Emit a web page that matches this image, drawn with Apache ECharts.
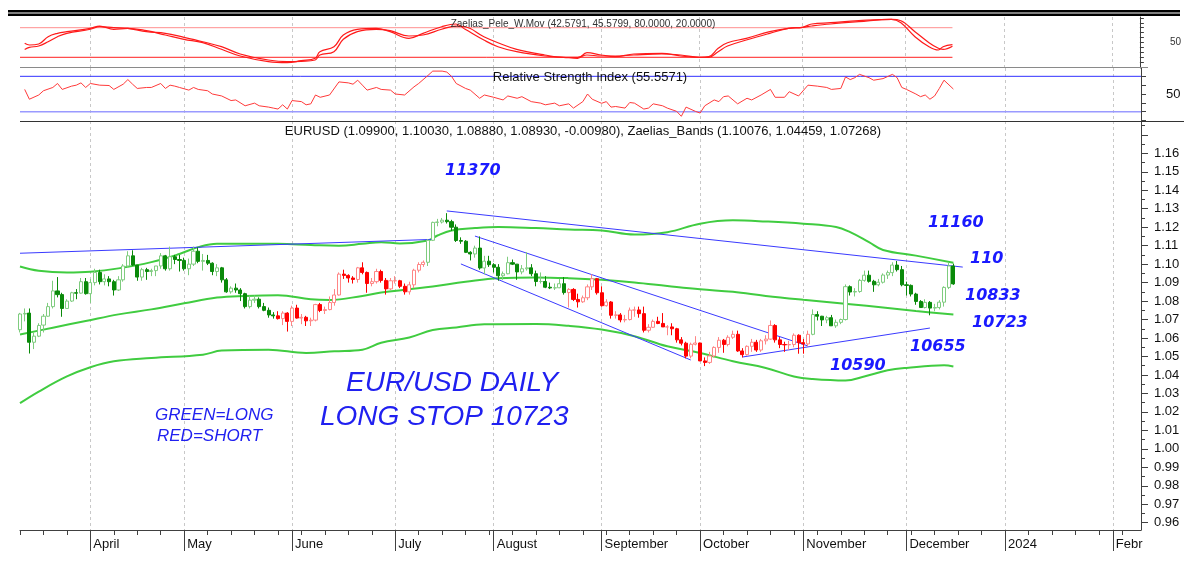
<!DOCTYPE html>
<html>
<head>
<meta charset="utf-8">
<title>EURUSD daily</title>
<script src="https://cdn.jsdelivr.net/npm/echarts@6/dist/echarts.min.js"></script>
<style>
  html, body { margin: 0; padding: 0; background: #fff; }
  #main { width: 1184px; height: 569px; }
</style>
</head>
<body>
<div id="main"></div>
<script>
// ---- data ----
// month names shown under the axis (first trading day of each month)
const monthNames = ['April', 'May', 'June', 'July', 'August', 'September', 'October', 'November', 'December', '2024', 'Febr'];

// daily candles [open, high, low, close], 13 Mar .. 15 Dec 2023
const eurusd = [
  // March
  [1.0645,1.0736,1.0630,1.0730],[1.0730,1.0760,1.0690,1.0733],[1.0735,1.0760,1.0516,1.0577],[1.0577,1.0630,1.0540,1.0610],
  [1.0610,1.0680,1.0605,1.0668],[1.0670,1.0730,1.0630,1.0718],[1.0718,1.0790,1.0715,1.0770],[1.0770,1.0910,1.0760,1.0855],
  [1.0855,1.0930,1.0820,1.0835],[1.0835,1.0845,1.0715,1.0760],[1.0760,1.0810,1.0760,1.0800],[1.0800,1.0850,1.0795,1.0845],
  [1.0845,1.0865,1.0810,1.0843],[1.0843,1.0925,1.0840,1.0905],[1.0905,1.0925,1.0835,1.0840],
  // April
  [1.0840,1.0920,1.0790,1.0900],[1.0900,1.0975,1.0885,1.0955],[1.0955,1.0970,1.0890,1.0905],[1.0905,1.0945,1.0885,1.0920],
  [1.0920,1.0935,1.0880,1.0905],[1.0905,1.0915,1.0830,1.0860],[1.0860,1.0935,1.0855,1.0915],[1.0915,1.1000,1.0905,1.0990],
  [1.0990,1.1070,1.0980,1.1045],[1.1045,1.1075,1.0990,1.0995],[1.0995,1.0995,1.0910,1.0930],[1.0930,1.0980,1.0910,1.0970],
  [1.0970,1.0980,1.0915,1.0960],[1.0960,1.0975,1.0935,1.0965],[1.0965,1.0990,1.0935,1.0990],[1.0990,1.1060,1.0975,1.1045],
  [1.1045,1.1050,1.0965,1.0975],[1.0975,1.1095,1.0965,1.1040],[1.1040,1.1050,1.1000,1.1025],[1.1025,1.1050,1.0960,1.1020],
  // May
  [1.1020,1.1035,1.0965,1.0975],[1.0975,1.1030,1.0940,1.1000],[1.1000,1.1095,1.0990,1.1070],[1.1070,1.1090,1.1005,1.1015],
  [1.1015,1.1055,1.0965,1.1020],[1.1020,1.1050,1.0995,1.1005],[1.1005,1.1010,1.0940,1.0960],[1.0960,1.1000,1.0935,1.0980],
  [1.0980,1.0985,1.0900,1.0915],[1.0915,1.0925,1.0845,1.0850],[1.0850,1.0880,1.0840,1.0870],[1.0870,1.0895,1.0845,1.0860],
  [1.0860,1.0870,1.0800,1.0840],[1.0840,1.0845,1.0760,1.0770],[1.0770,1.0830,1.0760,1.0805],[1.0805,1.0830,1.0790,1.0810],
  [1.0810,1.0820,1.0760,1.0770],[1.0770,1.0790,1.0745,1.0750],[1.0750,1.0765,1.0710,1.0725],[1.0725,1.0740,1.0705,1.0720],
  [1.0720,1.0745,1.0700,1.0705],[1.0705,1.0745,1.0670,1.0735],[1.0735,1.0740,1.0635,1.0690],
  // June
  [1.0690,1.0775,1.0665,1.0762],[1.0762,1.0780,1.0705,1.0708],[1.0708,1.0730,1.0675,1.0712],[1.0712,1.0720,1.0665,1.0693],
  [1.0693,1.0710,1.0665,1.0697],[1.0697,1.0785,1.0690,1.0781],[1.0781,1.0790,1.0740,1.0749],[1.0749,1.0770,1.0730,1.0754],
  [1.0754,1.0825,1.0750,1.0792],[1.0792,1.0865,1.0775,1.0833],[1.0833,1.0955,1.0830,1.0946],[1.0946,1.0970,1.0920,1.0939],
  [1.0939,1.0945,1.0900,1.0925],[1.0925,1.0935,1.0895,1.0917],[1.0917,1.0985,1.0900,1.0980],[1.0980,1.1010,1.0945,1.0955],
  [1.0955,1.0960,1.0845,1.0895],[1.0895,1.0925,1.0880,1.0905],[1.0905,1.0975,1.0895,1.0960],[1.0960,1.0970,1.0900,1.0912],
  [1.0912,1.0925,1.0835,1.0866],[1.0866,1.0925,1.0860,1.0910],
  // July
  [1.0910,1.0935,1.0895,1.0910],[1.0910,1.0915,1.0870,1.0880],[1.0880,1.0895,1.0835,1.0850],[1.0850,1.0905,1.0835,1.0888],
  [1.0888,1.0975,1.0870,1.0967],[1.0967,1.1010,1.0955,1.0998],[1.0998,1.1020,1.0985,1.1010],[1.1010,1.1135,1.0990,1.1129],
  [1.1129,1.1230,1.1125,1.1226],[1.1226,1.1245,1.1205,1.1228],[1.1228,1.1250,1.1220,1.1238],[1.1238,1.1276,1.1220,1.1230],
  [1.1230,1.1240,1.1180,1.1200],[1.1200,1.1215,1.1120,1.1128],[1.1128,1.1145,1.1110,1.1124],[1.1124,1.1130,1.1060,1.1064],
  [1.1064,1.1070,1.1020,1.1055],[1.1055,1.1100,1.1035,1.1087],[1.1087,1.1150,1.0970,1.0979],[1.0979,1.1045,1.0945,1.1016],
  [1.1016,1.1045,1.0985,1.0997],
  // August
  [1.0997,1.1005,1.0955,1.0983],[1.0983,1.1000,1.0910,1.0937],[1.0937,1.0960,1.0915,1.0948],[1.0948,1.1040,1.0945,1.1008],
  [1.1008,1.1025,1.0995,1.1000],[1.1000,1.1000,1.0915,1.0958],[1.0958,1.0995,1.0945,1.0975],[1.0975,1.1065,1.0965,1.0980],
  [1.0980,1.1000,1.0935,1.0948],[1.0948,1.0965,1.0880,1.0906],[1.0906,1.0955,1.0895,1.0906],[1.0906,1.0935,1.0870,1.0875],
  [1.0875,1.0900,1.0865,1.0871],[1.0871,1.0895,1.0860,1.0872],[1.0872,1.0920,1.0870,1.0894],[1.0894,1.0930,1.0835,1.0846],
  [1.0846,1.0870,1.0765,1.0863],[1.0863,1.0870,1.0800,1.0809],[1.0809,1.0840,1.0765,1.0796],[1.0796,1.0830,1.0790,1.0818],
  [1.0818,1.0890,1.0805,1.0877],[1.0877,1.0945,1.0860,1.0921],[1.0921,1.0925,1.0835,1.0845],
  // September
  [1.0845,1.0880,1.0770,1.0775],[1.0775,1.0810,1.0770,1.0795],[1.0795,1.0800,1.0705,1.0723],[1.0723,1.0745,1.0705,1.0725],
  [1.0725,1.0735,1.0685,1.0698],[1.0698,1.0725,1.0685,1.0700],[1.0700,1.0765,1.0695,1.0751],[1.0751,1.0770,1.0715,1.0752],
  [1.0752,1.0770,1.0710,1.0732],[1.0732,1.0770,1.0630,1.0642],[1.0642,1.0675,1.0630,1.0658],[1.0658,1.0700,1.0655,1.0690],
  [1.0690,1.0715,1.0675,1.0679],[1.0679,1.0735,1.0660,1.0660],[1.0660,1.0670,1.0615,1.0660],[1.0660,1.0680,1.0615,1.0650],
  [1.0650,1.0655,1.0575,1.0590],[1.0590,1.0605,1.0560,1.0572],[1.0572,1.0580,1.0490,1.0502],[1.0502,1.0575,1.0490,1.0566],
  [1.0566,1.0610,1.0560,1.0573],
  // October
  [1.0573,1.0575,1.0475,1.0476],[1.0476,1.0495,1.0448,1.0468],[1.0468,1.0525,1.0460,1.0503],[1.0503,1.0555,1.0495,1.0549],
  [1.0549,1.0605,1.0520,1.0588],[1.0588,1.0595,1.0520,1.0565],[1.0565,1.0615,1.0555,1.0604],[1.0604,1.0640,1.0595,1.0620],
  [1.0620,1.0640,1.0525,1.0530],[1.0530,1.0545,1.0495,1.0510],[1.0510,1.0560,1.0505,1.0555],[1.0555,1.0595,1.0525,1.0577],
  [1.0577,1.0590,1.0525,1.0535],[1.0535,1.0595,1.0525,1.0585],[1.0585,1.0615,1.0565,1.0594],[1.0594,1.0695,1.0590,1.0668],
  [1.0668,1.0675,1.0575,1.0590],[1.0590,1.0605,1.0545,1.0565],[1.0565,1.0580,1.0525,1.0563],[1.0563,1.0585,1.0535,1.0565],
  [1.0565,1.0625,1.0550,1.0615],[1.0615,1.0620,1.0515,1.0575],
  // November
  [1.0575,1.0595,1.0515,1.0568],[1.0568,1.0640,1.0555,1.0620],[1.0620,1.0755,1.0615,1.0727],[1.0727,1.0745,1.0695,1.0718],
  [1.0718,1.0720,1.0665,1.0698],[1.0698,1.0720,1.0680,1.0710],[1.0710,1.0725,1.0665,1.0666],[1.0666,1.0700,1.0655,1.0685],
  [1.0685,1.0705,1.0675,1.0700],[1.0700,1.0890,1.0695,1.0878],[1.0878,1.0885,1.0830,1.0849],[1.0849,1.0870,1.0825,1.0852],
  [1.0852,1.0920,1.0845,1.0912],[1.0912,1.0965,1.0905,1.0940],[1.0940,1.0965,1.0900,1.0907],[1.0907,1.0915,1.0850,1.0888],
  [1.0888,1.0920,1.0880,1.0902],[1.0902,1.0950,1.0895,1.0941],[1.0941,1.0965,1.0920,1.0954],[1.0954,1.1010,1.0935,1.0995],
  [1.0995,1.1017,1.0960,1.0970],[1.0970,1.0990,1.0880,1.0888],
  // December
  [1.0888,1.0905,1.0830,1.0885],[1.0885,1.0890,1.0825,1.0838],[1.0838,1.0845,1.0780,1.0798],[1.0798,1.0805,1.0765,1.0765],
  [1.0765,1.0810,1.0760,1.0793],[1.0793,1.0800,1.0723,1.0762],[1.0762,1.0785,1.0745,1.0765],[1.0765,1.0805,1.0755,1.0794],
  [1.0794,1.0880,1.0770,1.0874],[1.0874,1.1009,1.0865,1.0990],[1.0990,1.1003,1.0888,1.0893]
];

// long / short regime: first candle index of each run
const signalStart = [0, 55, 87, 117, 169];
const signalSide = ['long', 'short', 'long', 'short', 'long'];

// Zaelias bands [candle index, price]
const upperBand = [[0,1.0987],[4,1.0964],[10,1.0955],[15,1.0959],[21,1.0977],[28,1.1011],[34,1.1055],[38,1.1092],[42,1.1110],
  [55,1.1110],[62,1.1104],[68,1.1100],[73,1.1110],[77,1.1119],[81,1.1112],[87,1.1128],[89,1.1155],[92,1.1182],[97,1.1195],
  [102,1.1201],[110,1.1195],[117,1.1187],[124,1.1182],[131,1.1160],[138,1.1173],[145,1.1219],[152,1.1237],[159,1.1231],
  [167,1.1219],[174,1.1201],[177,1.1173],[181,1.1119],[184,1.1077],[191,1.1046],[199,1.1008]];
const midBand = [[0,1.0619],[7,1.0656],[14,1.0692],[21,1.0728],[28,1.0755],[35,1.0788],[42,1.0819],[48,1.0828],[55,1.0832],
  [62,1.0810],[66,1.0806],[73,1.0828],[77,1.0846],[83,1.0864],[88,1.0879],[95,1.0904],[102,1.0924],[110,1.0928],[117,1.0924],
  [124,1.0915],[131,1.0901],[138,1.0882],[145,1.0864],[152,1.0850],[159,1.0828],[167,1.0807],[177,1.0783],[184,1.0765],
  [191,1.0746],[199,1.0727]];
const lowerBand = [[0,1.0247],[4,1.0310],[10,1.0392],[15,1.0442],[20,1.0474],[28,1.0492],[39,1.0510],[43,1.0532],[53,1.0537],
  [61,1.0519],[67,1.0528],[73,1.0537],[77,1.0574],[83,1.0603],[88,1.0643],[93,1.0657],[99,1.0674],[110,1.0676],[117,1.0666],
  [124,1.0646],[131,1.0610],[138,1.0555],[145,1.0519],[152,1.0474],[159,1.0438],[165,1.0392],[169,1.0378],[176,1.0370],
  [180,1.0392],[185,1.0425],[189,1.0438],[197,1.0452],[199,1.0446]];

// hand drawn trend lines [candle index, price]
const trendLines = [
  [[0,1.1059],[88,1.1134]],
  [[91,1.1288],[201,1.0984]],
  [[97,1.1152],[168,1.0557]],
  [[94,1.1001],[143,1.0481]],
  [[154,1.0497],[194,1.0654]]
];

// Zaelias_Pele_W.Mov oscillator, two lines
const peleFast = [[1,48.4],[2,44.9],[4,47],[6,61.8],[8,68.6],[10,71.9],[15,78.8],[17,83.4],[20,76.8],[23,78.8],[27,73.9],
  [31,65.2],[35,56.5],[39,49.6],[43,36.2],[47,22.6],[53,11.1],[57,9.1],[60,13.1],[63,18],[64,31.4],[67,41.5],[69,65.2],
  [72,76.8],[76,78.8],[79,71.9],[83,58.5],[86,68.6],[90,82],[93,87.5],[95,76.8],[99,55],[102,41.5],[106,31.4],[112,22.6],
  [116,20],[119,18],[121,29.3],[124,24.7],[127,21.3],[131,26.7],[137,28.1],[141,22.6],[145,20],[147,21.3],[149,38.2],
  [151,49.6],[155,58.5],[160,71.9],[164,78.8],[167,80.8],[169,87.5],[173,90.1],[179,94.2],[186,97],[188,90.1],[191,61.8],
  [194,41.5],[196,34.8],[197,41.5],[199,45.6]];
const peleSlow = [[1,36],[2,40.2],[4,42.9],[6,51.6],[8,61.8],[10,68.6],[15,76.8],[17,82],[20,80],[23,78.8],[27,71.9],
  [31,68.6],[35,60.5],[39,51.6],[43,41.5],[47,26.7],[53,14.5],[57,11.1],[60,11.9],[63,14.5],[64,24.7],[67,31.4],[69,56.5],
  [72,71.9],[76,76.8],[79,73.9],[83,63.2],[86,65.2],[90,76.8],[93,83.4],[95,82],[99,61.8],[102,49.6],[106,36.2],[112,24.7],
  [116,20],[119,20],[121,24.7],[124,22.6],[127,22.6],[131,24.7],[137,26.7],[141,24.7],[145,20],[147,20],[149,31.4],
  [151,42.9],[155,55],[160,68.6],[164,78.8],[167,80.8],[169,83.4],[173,87.5],[179,92.2],[186,97],[188,94.2],[191,71.9],
  [194,49.6],[196,38.2],[197,36.2],[199,42.6]];

// Relative Strength Index
const rsi = [[1,55.2],[2,44.1],[4,48.9],[5,53.7],[7,57.4],[8,61.9],[9,55.2],[11,58.9],[12,60],[13,62.6],[14,57.4],[15,61.9],
  [17,60],[19,59.6],[20,55.2],[22,61.1],[23,66.3],[24,61.1],[25,56.3],[27,57.4],[28,57.4],[30,61.9],[31,56.3],[32,60],
  [33,58.9],[34,57.4],[36,54.4],[37,57.4],[38,55.2],[40,53.7],[41,50],[43,47.8],[45,42.6],[46,43.3],[48,36.7],[50,39.7],
  [51,36.7],[53,35.2],[54,34.1],[55,33],[56,37.8],[57,33],[58,42.6],[60,41.4],[61,37.8],[62,38.9],[63,48.9],[64,46.3],
  [66,48.9],[68,63.7],[70,62.6],[71,61.1],[72,65.6],[73,60],[74,54.4],[76,57.4],[77,55.2],[79,54.4],[80,50],[82,48.9],
  [84,58.1],[85,61.9],[87,71.1],[88,75.9],[90,75.9],[91,74.8],[92,70],[93,61.9],[95,56.3],[96,54.4],[98,45.2],[99,48.9],
  [101,46.3],[103,43.3],[104,47.8],[106,45.2],[107,47],[109,41.4],[111,39.7],[112,37.8],[114,39.7],[115,36.7],[117,38.9],
  [118,34.1],[120,41.4],[121,50],[122,44.1],[124,39.5],[125,41.4],[126,35.2],[127,35.9],[129,34.1],[130,40.4],[131,39.7],
  [133,33],[134,34.1],[135,38.9],[137,36.7],[138,34.1],[140,30.4],[141,24.8],[142,35.2],[144,30.4],[145,28.5],[146,36.7],
  [148,43.3],[149,41.4],[150,47],[151,47.8],[153,38.9],[155,45.2],[156,43.3],[158,48.9],[160,55.2],[161,46.3],[163,46.3],
  [164,52.6],[166,47.8],[168,60],[170,58.9],[172,57.4],[173,55.2],[175,56.3],[176,69.3],[177,66.3],[178,68.5],[179,72.2],
  [181,68.5],[182,65.6],[184,67.4],[186,72.2],[187,68.5],[188,57.4],[189,55.2],[191,50],[192,47],[193,48.9],[194,44.1],
  [195,47.8],[196,56.3],[197,65.6],[199,55.6]];

// price axis ticks and labels
const priceLabels = [0.96,0.97,0.98,0.99,1.00,1.01,1.02,1.03,1.04,1.05,1.06,1.07,1.08,1.09,1.10,1.11,1.12,1.13,1.14,1.15,1.16];
const priceTicks = priceLabels.concat([1.17]);
const priceMinorTicks = [0.965,0.975,0.985,0.995,1.005,1.015,1.025,1.035,1.045,1.055,1.065,1.075,1.085,1.095,1.105,1.115,
  1.125,1.135,1.145,1.155,1.165,1.175];
const peleTicks = [0,10,20,30,40,50,60,70,80,90,100];
const rsiTicks = [20,30,40,50,60,70];

// ---- trading day axis: weekdays 13 Mar 2023 .. 9 Feb 2024 ----
const days = [];
for (let t = Date.UTC(2023, 2, 13); t <= Date.UTC(2024, 1, 9); t += 86400000) {
  const wd = new Date(t).getUTCDay();
  if (wd === 0 || wd === 6) continue;
  days.push(new Date(t).toISOString().slice(0, 10));
}
const isMonthStart = i => i > 0 && days[i].slice(5, 7) !== days[i - 1].slice(5, 7);
const isMonday = i => new Date(days[i] + 'T00:00:00Z').getUTCDay() === 1;
const monthLabel = {};
let mi = 0;
days.forEach((d, i) => { if (isMonthStart(i)) monthLabel[d] = monthNames[mi++]; });

const sideOf = i => {
  let s = signalSide[0];
  signalStart.forEach((st, k) => { if (i >= st) s = signalSide[k]; });
  return s;
};
// one candlestick series per regime, '-' where the other regime rules
const candlesFor = side => eurusd.map((r, i) => sideOf(i) === side ? [r[0], r[3], r[2], r[1]] : '-');

const chart = echarts.init(document.getElementById('main'));

const gridLine = { show: true, interval: (i) => isMonthStart(i), lineStyle: { color: '#c8c8c8', type: [3, 3], width: 1 } };
const plainX = (gi) => ({
  type: 'category', gridIndex: gi, data: days, boundaryGap: false,
  axisLine: { show: false }, axisTick: { show: false }, axisLabel: { show: false },
  splitLine: gridLine
});
const axisColor = '#404040';

const lineSeries = (data, xi, yi, color, width, z, smooth) => ({
  type: 'line', xAxisIndex: xi, yAxisIndex: yi, data: data, symbol: 'none', showSymbol: false,
  smooth: smooth || false,
  lineStyle: { color: color, width: width }, z: z || 2, silent: true, animation: false
});

const blue = '#1a1aff';
const note = (txt, x, y) => ({
  type: 'text', x: x, y: y, z: 100,
  style: { text: txt, fill: blue, font: 'italic bold 16px "DejaVu Sans"', textVerticalAlign: 'middle' }
});
const hand = (txt, x, y, size) => ({
  type: 'text', x: x, y: y, z: 100,
  style: { text: txt, fill: '#2020f0', font: 'italic ' + size + 'px "Liberation Sans"', textVerticalAlign: 'middle' }
});

const candleSeries = (side, upBorder, down) => ({
  type: 'candlestick', name: side, xAxisIndex: 2, yAxisIndex: 2, data: candlesFor(side),
  barWidth: 3.6, z: 5, silent: true, animation: false,
  itemStyle: { color: '#ffffff', color0: down, borderColor: upBorder, borderColor0: down, borderWidth: 1 }
});

const option = {
  animation: false,
  backgroundColor: '#ffffff',
  grid: [
    { left: 20, right: 43, top: 17, height: 51 },
    { left: 20, right: 43, top: 68, height: 53 },
    { left: 20, right: 43, top: 121, height: 409 }
  ],
  xAxis: [
    plainX(0),
    plainX(1),
    {
      type: 'category', gridIndex: 2, data: days, boundaryGap: false,
      axisLine: { show: true, lineStyle: { color: axisColor } },
      axisTick: { show: true, interval: (i) => isMonday(i), length: 5, lineStyle: { color: axisColor } },
      axisLabel: { show: false },
      splitLine: gridLine
    },
    {
      type: 'category', gridIndex: 2, data: days, boundaryGap: false, position: 'bottom',
      axisLine: { show: false },
      axisTick: { show: true, interval: (i) => isMonthStart(i), length: 21, lineStyle: { color: axisColor } },
      axisLabel: {
        show: true, interval: (i) => isMonthStart(i), formatter: (v) => monthLabel[v] || '',
        align: 'left', padding: [0, 0, 0, 3], margin: 8, fontSize: 13, color: '#111', fontFamily: 'Liberation Sans'
      },
      splitLine: { show: false }
    }
  ],
  yAxis: [
    {
      type: 'value', gridIndex: 0, position: 'right', min: -1.7, max: 101.7,
      axisLine: { show: true, lineStyle: { color: axisColor } },
      axisTick: { show: true, length: 4, customValues: peleTicks, lineStyle: { color: axisColor } },
      axisLabel: { customValues: [50], fontSize: 10, color: '#333', margin: 30, fontFamily: 'Liberation Sans' },
      splitLine: { show: false }
    },
    {
      type: 'value', gridIndex: 1, position: 'right', min: 19.5, max: 79.4,
      axisLine: { show: true, lineStyle: { color: axisColor } },
      axisTick: { show: true, length: 5, customValues: rsiTicks, lineStyle: { color: axisColor } },
      axisLabel: { customValues: [50], fontSize: 13, color: '#111', margin: 25, fontFamily: 'Liberation Sans' },
      splitLine: { show: false }
    },
    {
      type: 'value', gridIndex: 2, position: 'right', min: 0.95605, max: 1.1775,
      axisLine: { show: true, lineStyle: { color: axisColor } },
      axisTick: { show: true, length: 7, customValues: priceTicks, lineStyle: { color: axisColor } },
      axisLabel: {
        customValues: priceLabels, formatter: (v) => v.toFixed(2),
        fontSize: 13, color: '#111', margin: 13, fontFamily: 'Liberation Sans'
      },
      splitLine: { show: false }
    },
    {
      type: 'value', gridIndex: 2, position: 'right', min: 0.95605, max: 1.1775,
      axisLine: { show: false },
      axisTick: { show: true, length: 4, customValues: priceMinorTicks, lineStyle: { color: axisColor } },
      axisLabel: { show: false },
      splitLine: { show: false }
    }
  ],
  series: [
    // oscillator panel
    lineSeries([[0, 80], [199, 80]], 0, 0, '#ff8f8f', 1),
    lineSeries([[0, 20], [199, 20]], 0, 0, '#ff2020', 1),
    lineSeries(peleSlow, 0, 0, '#ff1a1a', 1.2, 3, 0.4),
    lineSeries(peleFast, 0, 0, '#ff1a1a', 1.2, 3, 0.4),
    // RSI panel
    lineSeries([[0, 70], [239, 70]], 1, 1, '#3030ff', 1),
    lineSeries([[0, 30], [239, 30]], 1, 1, '#9a9aff', 1.5),
    lineSeries(rsi, 1, 1, '#ff3a3a', 1, 3),
    // price panel
    lineSeries(upperBand, 2, 2, '#40cc40', 2, 2, 0.4),
    lineSeries(midBand, 2, 2, '#40cc40', 2, 2, 0.4),
    lineSeries(lowerBand, 2, 2, '#40cc40', 2, 2, 0.4),
    ...trendLines.map(t => lineSeries(t, 2, 2, '#3a3aff', 1, 4)),
    candleSeries('long', '#7fcc7f', '#0a8a0a'),
    candleSeries('short', '#ff8585', '#ff0000')
  ],
  graphic: [
    { type: 'rect', shape: { x: 8, y: 10, width: 1172, height: 2.5 }, style: { fill: '#000' }, z: 100 },
    { type: 'rect', shape: { x: 8, y: 13.5, width: 1172, height: 2.5 }, style: { fill: '#000' }, z: 100 },
    { type: 'line', shape: { x1: 20, y1: 67.5, x2: 1148, y2: 67.5 }, style: { stroke: '#8a8a8a', lineWidth: 1 }, z: 100 },
    { type: 'line', shape: { x1: 20, y1: 121.5, x2: 1184, y2: 121.5 }, style: { stroke: '#333333', lineWidth: 1 }, z: 100 },
    {
      type: 'text', x: 583, y: 24, z: 100,
      style: { text: 'Zaelias_Pele_W.Mov (42.5791, 45.5799, 80.0000, 20.0000)', fill: '#333',
        font: '10px "Liberation Sans"', textAlign: 'center', textVerticalAlign: 'middle' }
    },
    {
      type: 'text', x: 590, y: 77, z: 100,
      style: { text: 'Relative Strength Index (55.5571)', fill: '#111',
        font: '13px "Liberation Sans"', textAlign: 'center', textVerticalAlign: 'middle' }
    },
    {
      type: 'text', x: 583, y: 131, z: 100,
      style: { text: 'EURUSD (1.09900, 1.10030, 1.08880, 1.08930, -0.00980), Zaelias_Bands (1.10076, 1.04459, 1.07268)',
        fill: '#111', font: '13px "Liberation Sans"', textAlign: 'center', textVerticalAlign: 'middle' }
    },
    note('11370', 445, 171),
    note('11160', 928, 223),
    note('110', 970, 259),
    note('10833', 965, 296),
    note('10723', 972, 323),
    note('10655', 910, 347),
    note('10590', 830, 366),
    hand('EUR/USD DAILY', 346, 383, 28),
    hand('LONG STOP 10723', 320, 417, 28),
    hand('GREEN=LONG', 155, 415, 17),
    hand('RED=SHORT', 157, 436, 17)
  ]
};

chart.setOption(option);
window.addEventListener('resize', function () { chart.resize(); });
</script>
</body>
</html>
